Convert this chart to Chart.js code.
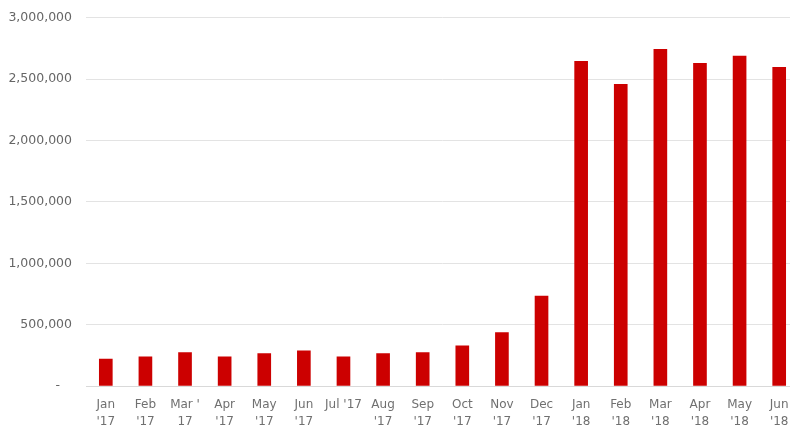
<!DOCTYPE html>
<html>
<head>
<meta charset="utf-8">
<script src="https://cdn.jsdelivr.net/npm/chart.js@4"></script>
<style>
html,body{margin:0;padding:0;background:#fff;overflow:hidden;}
#wrap{position:relative;width:800px;height:428px;}
</style>
</head>
<body>
<div id="wrap"><canvas id="c" width="800" height="428"></canvas></div>
<script>
const categories = [
  ["Jan","'17"],["Feb","'17"],["Mar '","17"],["Apr","'17"],["May","'17"],["Jun","'17"],
  "Jul '17",["Aug","'17"],["Sep","'17"],["Oct","'17"],["Nov","'17"],["Dec","'17"],
  ["Jan","'18"],["Feb","'18"],["Mar","'18"],["Apr","'18"],["May","'18"],["Jun","'18"]
];
const values = [
  220000, 237000, 272000, 237000, 264000, 286000,
  237000, 264000, 272000, 327000, 436000, 733000,
  2645000, 2457000, 2743000, 2628000, 2688000, 2596000
];
const yTicks = [0, 500000, 1000000, 1500000, 2000000, 2500000, 3000000];

const fontFamily = "'DejaVu Sans', Verdana, sans-serif";

new Chart(document.getElementById('c'), {
  type: 'bar',
  data: {
    labels: categories,
    datasets: [{
      data: values,
      backgroundColor: '#cc0000',
      borderWidth: 0,
      barThickness: 13
    }]
  },
  options: {
    responsive: false,
    animation: false,
    layout: { padding: { top: 0, right: 1, left: 0, bottom: 0 } },
    plugins: { legend: { display: false }, tooltip: { enabled: false } },
    scales: {
      x: {
        grid: { display: false, drawTicks: false },
        border: { display: true, color: '#d9d9d9', width: 1 },
        ticks: {
          color: '#707070', maxRotation: 0, autoSkip: false, padding: 10,
          font: { family: fontFamily, size: 12, lineHeight: 1.45 }
        },
        afterFit: s => { s.height = 42; }
      },
      y: {
        min: 0, max: 3000000,
        afterBuildTicks: s => { s.ticks = yTicks.map(v => ({ value: v })); },
        grid: { color: '#e3e3e3', drawTicks: false },
        border: { display: false },
        ticks: {
          color: '#666', padding: 14,
          font: { family: fontFamily, size: 12.5, lineHeight: 0.6 },
          callback: v => v === 0 ? '-   ' : v.toLocaleString('en-US')
        },
        afterFit: s => { s.width = 86; }
      }
    }
  }
});
</script>
</body>
</html>
